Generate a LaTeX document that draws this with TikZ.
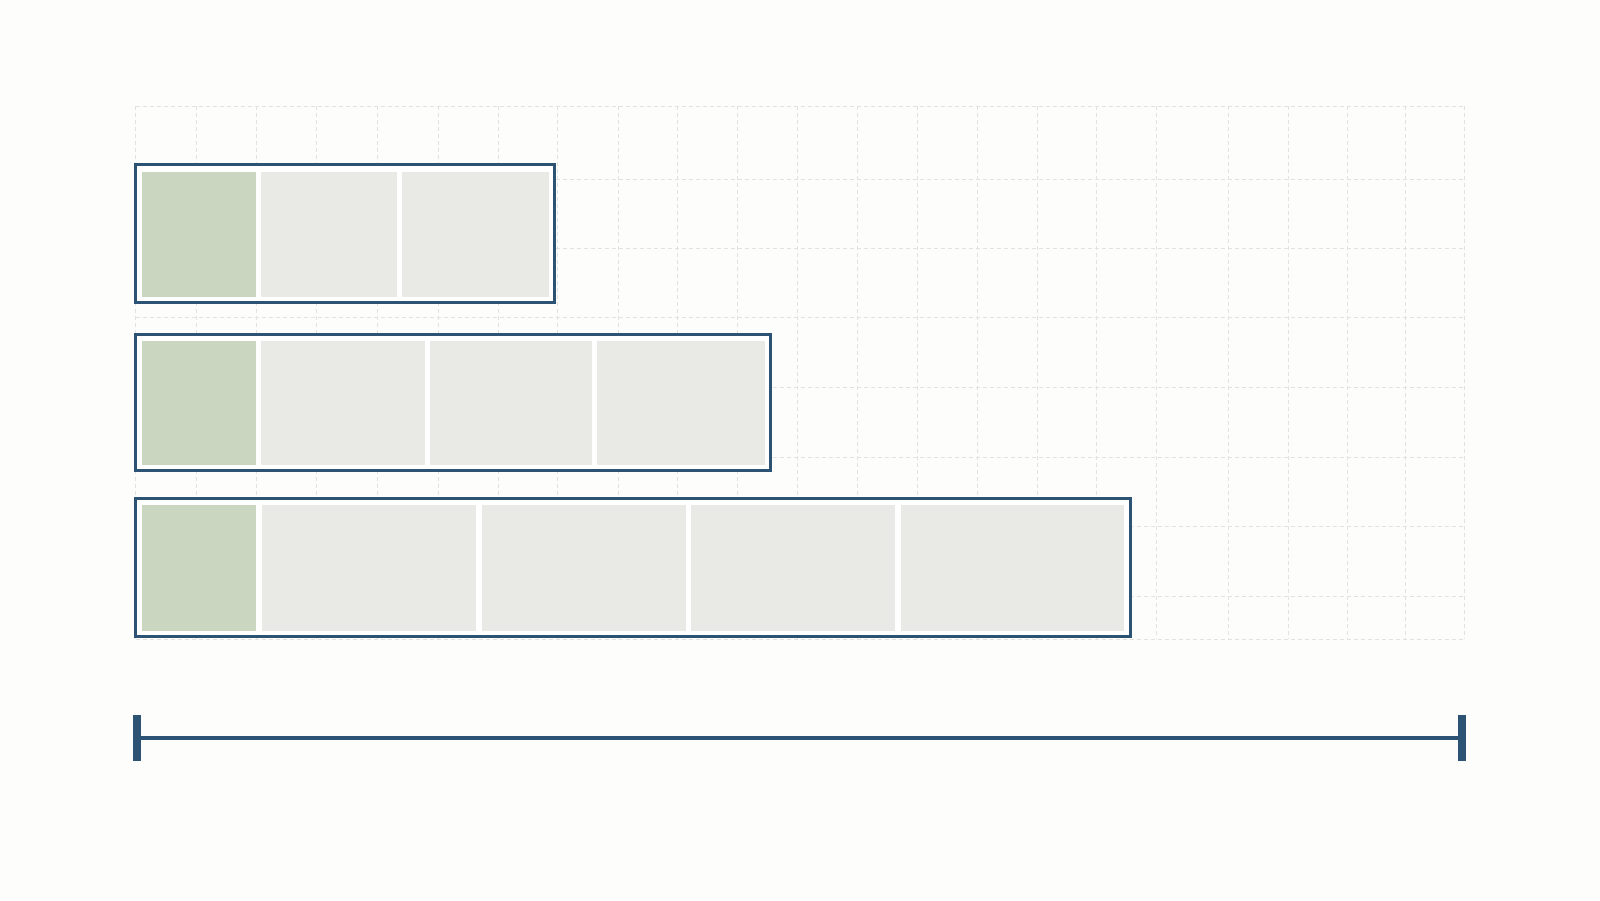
\documentclass[tikz,border=0pt]{standalone}
\usepackage{tikz}
\definecolor{bgc}{HTML}{FDFDFB}
\definecolor{gridc}{HTML}{E2E2DE}
\definecolor{framec}{HTML}{2C5373}
\definecolor{greenc}{HTML}{CBD6C0}
\definecolor{grayc}{HTML}{E9E9E6}
\tikzset{
  gridline/.style={draw=gridc, line width=0.9pt, dash pattern=on 4pt off 3pt},
  frame/.style={anchor=north west, draw=framec, line width=3pt, fill=white, inner sep=0pt, outer sep=0pt},
  cellg/.style={anchor=north west, fill=greenc, draw=none, inner sep=0pt, outer sep=0pt},
  cellw/.style={anchor=north west, fill=grayc, draw=none, inner sep=0pt, outer sep=0pt},
  tickbar/.style={anchor=north west, fill=framec, draw=none, inner sep=0pt, outer sep=0pt, minimum width=8pt},
  axisline/.style={draw=framec, line width=4pt}
}
\begin{document}
\begin{tikzpicture}[x=1pt,y=-1pt]
\useasboundingbox (0,0) rectangle (1600,900);
\fill[bgc] (0,0) rectangle (1600,900);
% grid
\foreach \gx in {135.6,196,256,316,377,438,498,557.5,618,677,737,797,857,917,977,1037,1096,1156,1228,1288,1347,1405,1464}
  \draw[gridline] (\gx,106) -- (\gx,639);
\foreach \gy in {106,179.5,248,317.5,387,457,526.5,596.5,639}
  \draw[gridline] (135.6,\gy) -- (1464,\gy);
% row 1
\node[frame, minimum width=419pt, minimum height=138pt] (box1) at (135.5,164.5) {};
\node[cellg, minimum width=114pt, minimum height=125.5pt] (b1c1) at (142,171.5) {};
\node[cellw, minimum width=136pt, minimum height=125.5pt] (b1c2) at (261,171.5) {};
\node[cellw, minimum width=146.5pt, minimum height=125.5pt] (b1c3) at (402,171.5) {};
% row 2
\node[frame, minimum width=634.5pt, minimum height=136pt] (box2) at (135.5,334) {};
\node[cellg, minimum width=114pt, minimum height=123.5pt] (b2c1) at (142,341) {};
\node[cellw, minimum width=163.5pt, minimum height=123.5pt] (b2c2) at (261,341) {};
\node[cellw, minimum width=162.5pt, minimum height=123.5pt] (b2c3) at (429.5,341) {};
\node[cellw, minimum width=167.5pt, minimum height=123.5pt] (b2c4) at (597,341) {};
% row 3
\node[frame, minimum width=995pt, minimum height=138pt] (box3) at (135.5,498.5) {};
\node[cellg, minimum width=114pt, minimum height=126pt] (b3c1) at (142,504.5) {};
\node[cellw, minimum width=214pt, minimum height=126pt] (b3c2) at (262,504.5) {};
\node[cellw, minimum width=203.7pt, minimum height=126pt] (b3c3) at (482,504.5) {};
\node[cellw, minimum width=204pt, minimum height=126pt] (b3c4) at (691,504.5) {};
\node[cellw, minimum width=223.5pt, minimum height=126pt] (b3c5) at (900.5,504.5) {};
% timeline
\node[tickbar, minimum height=46pt] (tl) at (133.3,715) {};
\node[tickbar, minimum height=46pt] (tr) at (1457.5,715) {};
\draw[axisline] (tl.east) -- (tr.west);
\end{tikzpicture}
\end{document}
